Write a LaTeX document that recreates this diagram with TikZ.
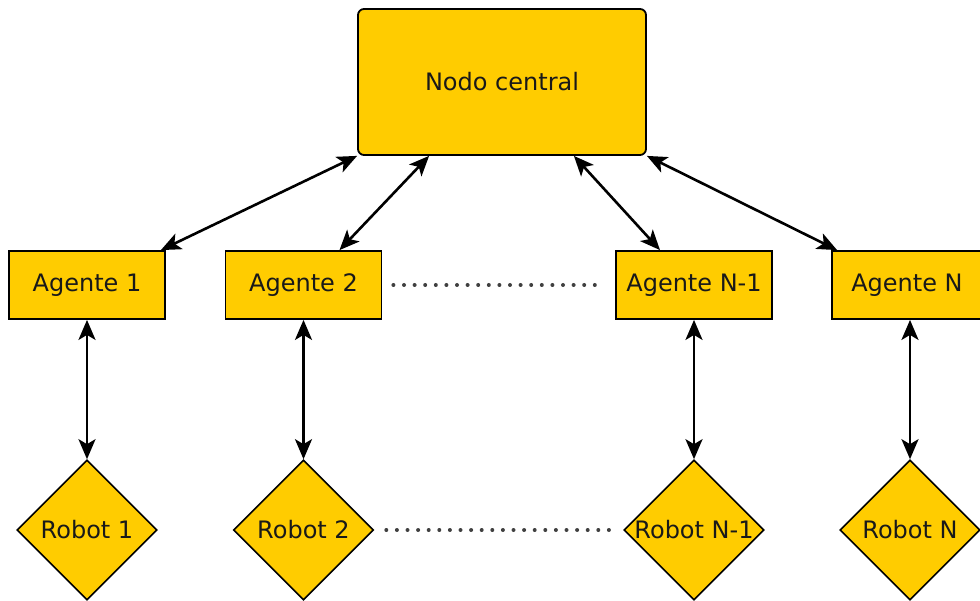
\documentclass[tikz,border=0pt]{standalone}
\usepackage{fontspec}
\setmainfont{DejaVu Sans}
\usetikzlibrary{shapes.geometric,arrows.meta,calc}
\definecolor{gold}{RGB}{255,204,0}
\newcommand{\lblfont}{\fontsize{24}{28}\selectfont}
\begin{document}
\begin{tikzpicture}[x=1pt,y=-1pt,
  every node/.style={font=\lblfont, text=black!90},
  central/.style={draw, line width=1.8pt, fill=gold, rounded corners=6pt, minimum width=288pt, minimum height=146pt, inner sep=0pt},
  agentbox/.style={draw, line width=1.8pt, fill=gold, minimum width=156pt, minimum height=68pt, inner sep=0pt},
  robotbox/.style={draw, line width=1.6pt, fill=gold, diamond, minimum width=140pt, minimum height=140pt, inner sep=0pt},
  link/.style={line width=2.6pt, {Stealth[length=20pt,width=17pt,inset=5pt]}-{Stealth[length=20pt,width=17pt,inset=5pt]}},
  dots/.style={line width=4pt, line cap=round, dash pattern=on 0pt off 10.6pt, black!75}
]
\useasboundingbox (0,0) rectangle (980,601);
\begin{scope}
\clip (0,0) rectangle (980,601);
\node[central] (c) at (502,82) {Nodo central};
\node[agentbox] (a1) at (87,285) {Agente 1};
\node[agentbox] (a2) at (303.5,285) {Agente 2};
\node[agentbox] (an1) at (694,285) {Agente N-1};
\node[agentbox] (an) at (910,285) {};
\node at (907,285) (antext) {Agente N};
\node[robotbox, label={[font=\lblfont]center:Robot 1}] (r1) at (87,530) {};
\node[robotbox, label={[font=\lblfont]center:Robot 2}] (r2) at (303.5,530) {};
\node[robotbox, label={[font=\lblfont]center:Robot N-1}] (rn1) at (694,530) {};
\node[robotbox, label={[font=\lblfont]center:Robot N}] (rn) at (910,530) {};

\draw[link] (c.south west) -- ([xshift=-5pt]a1.north east);
\draw[link] ([xshift=72pt]c.south west) -- ([xshift=36pt]a2.north);
\draw[link] ([xshift=-73pt]c.south east) -- ([xshift=-34pt]an1.north);
\draw[link] (c.south east) -- ([xshift=6pt]an.north west);

\draw[link] (a1.south) -- (r1.north);
\draw[link] (a2.south) -- (r2.north);
\draw[link] (an1.south) -- (rn1.north);
\draw[link] (an.south) -- (rn.north);

\draw[dots] ([xshift=11pt]a2.east) -- ([xshift=-11pt]an1.west);
\draw[dots] ([xshift=12pt]r2.east) -- ([xshift=-9pt]rn1.west);
\end{scope}
\end{tikzpicture}
\end{document}
